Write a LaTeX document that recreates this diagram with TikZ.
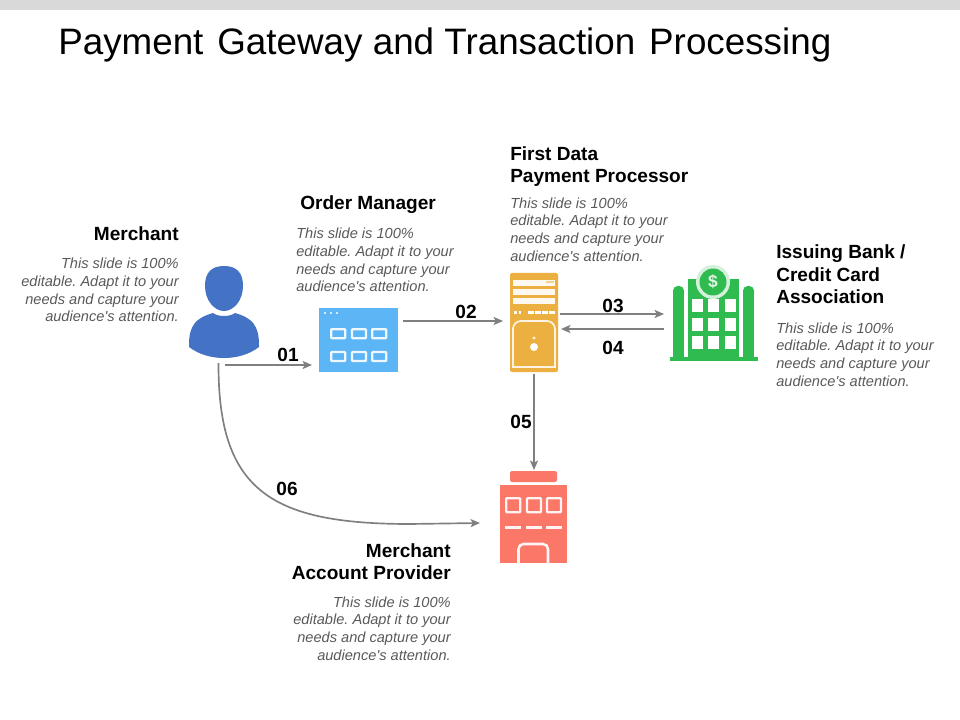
\documentclass[tikz,border=0pt]{standalone}
\usepackage{fontspec}
\setmainfont{Liberation Sans}
\usetikzlibrary{arrows.meta}
\definecolor{barc}{HTML}{D9D9D9}
\definecolor{linec}{HTML}{7F7F7F}
\definecolor{descc}{HTML}{595959}
\definecolor{personc}{HTML}{4472C4}
\definecolor{bluec}{HTML}{5CB5F5}
\definecolor{yellowc}{HTML}{EBB040}
\definecolor{greenc}{HTML}{2FBB4F}
\definecolor{redc}{HTML}{FB7868}
\newcommand{\slidetext}{This slide is 100\%\\editable. Adapt it to your\\needs and capture your\\audience\textquotesingle s attention.}
\tikzset{
 x=0.75pt,y=-0.75pt,
 icon/.style={draw=none,inner sep=0pt,outer sep=0pt,minimum width=#1},
 conn/.style={draw=linec,line width=1.25pt,-{Stealth[length=7pt,width=6pt,inset=1.5pt]}},
 desc/.style={inner sep=0pt,font=\fontsize{10.95pt}{13.2pt}\selectfont\itshape\frenchspacing,text=descc},
 head/.style={inner sep=0pt,font=\fontsize{14.3pt}{17pt}\selectfont\bfseries,text=black},
 num/.style={inner sep=0pt,font=\fontsize{14.3pt}{16pt}\selectfont\bfseries,text=black},
 wline/.style={draw=white,line width=1.3pt},
}
\begin{document}
\begin{tikzpicture}
\useasboundingbox (0,0) rectangle (960,720);
\fill[barc] (0,0) rectangle (960,10);
\node[inner sep=0pt,anchor=base west,font=\fontsize{27.6pt}{32pt}\selectfont] (title) at (58,55) {Payment\hspace{0.1em} Gateway and Transaction\hspace{0.1em} Processing};

% person
\node[icon=52.5pt,minimum height=69pt,anchor=north west] (merchant) at (189,266) {};
\fill[personc] (189,345) .. controls (189,325) and (196,318) .. (213,313) .. controls (218,317) and (230,317) .. (235,313) .. controls (252,318) and (259,325) .. (259,345) -- (259,347) .. controls (240,361.7) and (208,361.7) .. (189,347) -- cycle;
\fill[personc] (224,266) .. controls (237,266) and (243,273) .. (243,286) .. controls (243,300) and (234,311) .. (224,311) .. controls (214,311) and (205,300) .. (205,286) .. controls (205,273) and (211,266) .. (224,266) -- cycle;

% order manager
\node[icon=59.25pt,minimum height=48pt,anchor=north west,fill=bluec] (order) at (319,308) {};
\foreach \y in {329.2,352}\foreach \x in {331.2,352,372.2}
  \draw[draw=white!90!bluec,line width=1.7pt,rounded corners=0.5pt] (\x,\y) rectangle ++(14,9);
\foreach \x in {325,331,337} \fill[white] (\x,313) circle (1.1);

% server
\node[icon=36pt,minimum height=74.25pt,anchor=north west,fill=yellowc,rounded corners=1.5pt] (server) at (510,273) {};
\foreach \y in {280,289,298} \fill[white!92!yellowc] (513,\y) rectangle (555,\y+6);
\fill[yellowc!60!white] (546,281.5) rectangle (554,283.5);
\foreach \x in {514,518.5} \fill[white] (\x,310.5) rectangle ++(2.5,3);
\foreach \x in {528,535,542,549} \fill[white] (\x,310.5) rectangle ++(6,3);
\draw[wline,draw=white!85!yellowc] (513,367) -- (513,329) arc[start angle=180,end angle=90,radius=6pt] -- (547,321) arc[start angle=90,end angle=0,radius=6pt] -- (555,367) -- cycle;
\fill[white!85!yellowc] (534,338) circle (1.6);
\fill[white] (534,347) circle (4);

% bank
\node[icon=66pt,minimum height=69pt,anchor=north west] (bank) at (670,269) {};
\fill[greenc] (670,357) rectangle (758,361);
\fill[greenc,rounded corners=3.5pt] (673,300) -- (673,286) -- (684,286) -- (684,300) -- cycle;
\fill[greenc] (673,295) rectangle (684,358);
\fill[greenc,rounded corners=3.5pt] (754,300) -- (754,286) -- (743,286) -- (743,300) -- cycle;
\fill[greenc] (743,295) rectangle (754,358);
\fill[greenc] (688,279) rectangle (739,358);
\fill[white!80!greenc] (713,282) circle (17);
\fill[greenc] (713,282) circle (13.5);
\node[inner sep=0pt,text=white!85!greenc,font=\fontsize{13pt}{13pt}\selectfont\bfseries] (dollar) at (713,281.5) {\$};
\foreach \y in {299,318,336}\foreach \x in {692,708,725}
  \fill[white] (\x,\y) rectangle ++(11,13);

% provider
\node[icon=50.25pt,minimum height=69pt,anchor=north west] (provider) at (500,471) {};
\fill[redc,rounded corners=1.5pt] (510,482) -- (510,471) -- (557,471) -- (557,482) -- cycle;
\fill[redc] (500,485) rectangle (567,563);
\foreach \x in {506.2,527,547} \draw[draw=white!92!redc,line width=1.7pt,rounded corners=0.5pt] (\x,498.2) rectangle ++(14,14);
\foreach \x in {505,526,546} \fill[white!92!redc] (\x,525.5) rectangle ++(16,3);
\draw[draw=white!92!redc,line width=1.9pt] (518.5,563) -- (518.5,549) arc[start angle=180,end angle=90,radius=3.75pt] -- (543,544) arc[start angle=90,end angle=0,radius=3.75pt] -- (548,563);

% connectors
\draw[conn] ([shift={(1,7)}]merchant.south) -- ([shift={(-7,25)}]order.west);
\draw[conn] ([shift={(5,-19)}]order.east) -- ([shift={(-7,-1.5)}]server.west);
\draw[conn] ([shift={(2,-8.5)}]server.east) -- ([shift={(-6,-1)}]bank.west);
\draw[conn] ([shift={(-6,14)}]bank.west) -- ([shift={(3,6.5)}]server.east);
\draw[conn] ([shift={(0,2)}]server.south) -- ([shift={(0.5,-1)}]provider.north);
\draw[conn] ([shift={(-5.5,5)}]merchant.south) .. controls (218,490) and (270,524) .. (410,524) -- ([shift={(-20,6)}]provider.west);

% numbers
\node[num,anchor=base] (n1) at (288,361) {01};
\node[num,anchor=base] (n2) at (466,318) {02};
\node[num,anchor=base] (n3) at (613,312) {03};
\node[num,anchor=base] (n4) at (613,354) {04};
\node[num,anchor=base] (n5) at (521,428) {05};
\node[num,anchor=base] (n6) at (287,495) {06};

% text
\node[head,anchor=base east] (h1) at (179,241) {Merchant};
\node[desc,anchor=north east,align=right] (d1) at (179,258) {\slidetext};
\node[head,anchor=base west] (h2) at (300,210) {Order Manager};
\node[desc,anchor=north west,align=left] (d2) at (296,228) {\slidetext};
\node[head,anchor=north west,align=left] (h3) at (510,146) {First Data\\Payment Processor};
\node[desc,anchor=north west,align=left] (d3) at (510,197.5) {\slidetext};
\node[head,anchor=north west,align=left] (h4) at (776,244.5) {Issuing Bank /\\Credit Card\\Association};
\node[desc,anchor=north west,align=left] (d4) at (776,322.5) {\slidetext};
\node[head,anchor=north east,align=right] (h5) at (451,543) {Merchant\\Account Provider};
\node[desc,anchor=north east,align=right] (d5) at (451,596.5) {\slidetext};
\end{tikzpicture}
\end{document}
